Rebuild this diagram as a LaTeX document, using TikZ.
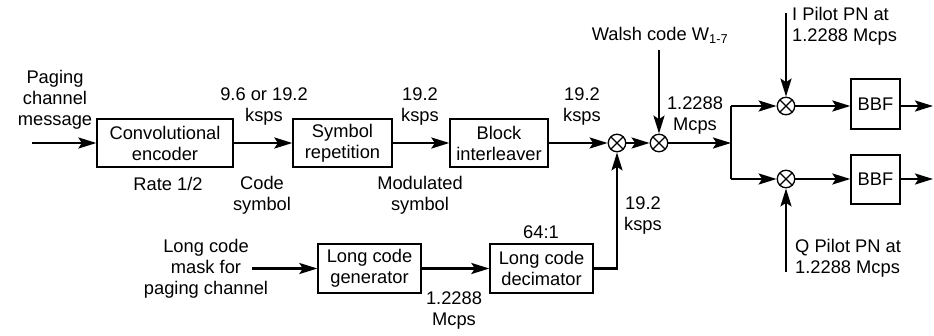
\documentclass[tikz,border=0pt]{standalone}
\usepackage{fontspec}
\setmainfont{Liberation Sans}
\usetikzlibrary{arrows.meta}
\begin{document}
\begin{tikzpicture}[x=1pt,y=-1pt,
  font=\fontsize{18.3}{21}\selectfont,
  blk/.style={draw, line width=1.3pt, minimum height=48pt, inner sep=0pt, align=center},
  mul/.style={draw, circle, line width=1.3pt, minimum size=17.5pt, inner sep=0pt,
    path picture={\draw[line width=1.2pt]
      (path picture bounding box.north west) -- (path picture bounding box.south east)
      (path picture bounding box.north east) -- (path picture bounding box.south west);}},
  sig/.style={line width=2.4pt, -{Stealth[length=18pt,width=11pt,inset=3.5pt]}},
  wire/.style={line width=2.4pt},
  lbl/.style={align=center, inner sep=0pt},
]
\useasboundingbox (0,0) rectangle (934,335);

% main processing chain
\node[blk, minimum width=136pt] (conv) at (165,143) {Convolutional\\encoder};
\node[blk, minimum width=99pt]  (rep)  at (342.5,143) {Symbol\\repetition};
\node[blk, minimum width=98pt]  (intl) at (499,143) {Block\\interleaver};
\node[mul] (m1) at (617,143) {};
\node[mul] (m2) at (659,143) {};

% I/Q split
\coordinate (j)  at (731,143);
\coordinate (jt) at (731,106);
\coordinate (jb) at (731,179);
\node[mul] (m3) at (786,106) {};
\node[mul] (m4) at (786,179) {};
\node[blk, minimum width=49pt, minimum height=50pt] (bbf1) at (875.5,104) {BBF};
\node[blk, minimum width=49pt, minimum height=49pt] (bbf2) at (875.5,179.5) {BBF};
\coordinate (o1) at (933,106);
\coordinate (o2) at (933,179);

% long code branch
\node[blk, minimum width=103pt, minimum height=49pt] (gen) at (369.5,268.5) {Long code\\generator};
\node[blk, minimum width=103pt, minimum height=49pt] (dec) at (541.5,268.5) {Long code\\decimator};

% free ends of the input arrows
\coordinate (in)  at (32,143);
\coordinate (lin) at (252,268.5);
\coordinate (wt)  at (659,50);
\coordinate (ip)  at (786,13);
\coordinate (qp)  at (786,272);

% connectors
\draw[sig] (in) -- (conv);
\draw[sig] (conv) -- (rep);
\draw[sig] (rep) -- (intl);
\draw[sig] (intl) -- (m1);
\draw[sig] (m1) -- (m2);
\draw[sig] (wt) -- (m2);
\draw[sig] (m2) -- (j);
\draw[wire] (jt) -- (jb);
\draw[sig] (jt) -- (m3);
\draw[sig] (jb) -- (m4);
\draw[sig] (ip) -- (m3);
\draw[sig] (qp) -- (m4);
\draw[sig] (m3) -- (bbf1.west |- m3);
\draw[sig] (m4) -- (bbf2.west |- m4);
\draw[sig] (bbf1.east |- m3) -- (o1);
\draw[sig] (bbf2.east |- m4) -- (o2);
\draw[sig] (lin) -- (gen);
\draw[sig] (gen) -- (dec);
\draw[sig] (dec.east) -| (m1);

% labels
\node[lbl] (tmsg)  at (55,100)   {Paging\\channel\\message};
\node[lbl] (tr1)   at (264,107)  {9.6 or 19.2\\ksps};
\node[lbl] (tr2)   at (420,107)  {19.2\\ksps};
\node[lbl] (tr3)   at (582,107)  {19.2\\ksps};
\node[lbl] (tchip) at (695,116)  {1.2288\\Mcps};
\node[lbl] (trate) at (168,184)  {Rate 1/2};
\node[lbl] (tcode) at (262,195)  {Code\\symbol};
\node[lbl] (tmod)  at (420,195)  {Modulated\\symbol};
\node[lbl] (tr4)   at (643,216)  {19.2\\ksps};
\node[lbl] (tdec)  at (541,232)  {64:1};
\node[lbl] (tmask) at (206,269)  {Long code\\mask for\\paging channel};
\node[lbl] (tgen)  at (454,311)  {1.2288\\Mcps};
\node[lbl] (twal)  at (660,35)   {Walsh code W\textsubscript{1-7}};
\node[lbl, align=left, anchor=west] (tip) at (792,26)  {I Pilot PN at\\1.2288 Mcps};
\node[lbl, align=left, anchor=west] (tqp) at (795,258) {Q Pilot PN at\\1.2288 Mcps};
\end{tikzpicture}
\end{document}
